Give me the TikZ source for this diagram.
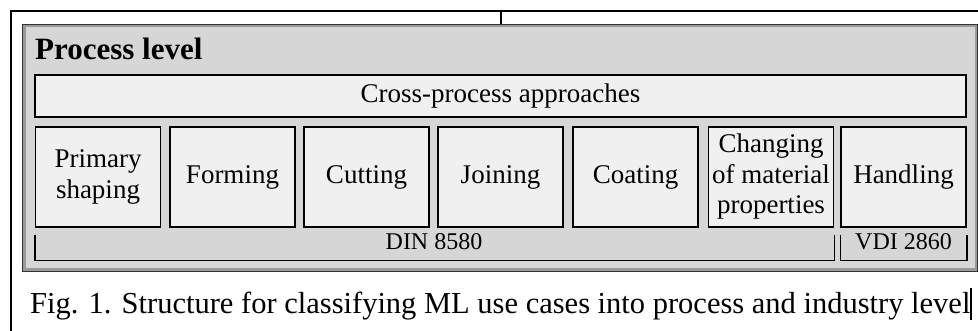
\documentclass[tikz,border=0pt]{standalone}
\usepackage{fontspec}
\setmainfont{Liberation Serif}
\definecolor{panelgray}{HTML}{D6D6D6}
\definecolor{boxfill}{HTML}{F0F0F0}
\definecolor{edgegray}{HTML}{9A9A9A}
\tikzset{
  frameline/.style={line width=1.5pt, black},
  panel/.style={fill=panelgray, draw=edgegray, line width=3pt, minimum width=952pt, minimum height=244pt, inner sep=0pt},
  panelinner/.style={draw=black!80, line width=1.2pt},
  crossbox/.style={draw=black, line width=1.5pt, fill=boxfill, minimum width=931pt, minimum height=42pt, inner sep=0pt, font=\fontsize{27}{30}\selectfont},
  procbox/.style={draw=black, line width=1.5pt, fill=boxfill, minimum width=125pt, minimum height=100pt, inner sep=0pt, align=center, font=\fontsize{27}{30.5}\selectfont},
  bracket/.style={line width=1.5pt, black},
  stdlabel/.style={anchor=base, inner sep=0pt, font=\fontsize{24}{26}\selectfont},
}
\begin{document}
\begin{tikzpicture}[x=1pt, y=-1pt]
\useasboundingbox (0,0) rectangle (978,331);
% outer frame
\coordinate (fl) at (11,331);
\coordinate (ftl) at (11,11);
\coordinate (fr) at (978,11);
\draw[frameline] (fl) -- (ftl) -- (fr);
% process panel
\node[panel] (proc) at (500,148) {};
\draw[panelinner] (proc.north west) rectangle (proc.south east);
\coordinate (tick) at (501,11);
\draw[frameline] (tick) -- (tick |- proc.north);
\node[anchor=base west, inner sep=0pt, font=\fontsize{31}{34}\selectfont\bfseries] (title) at (35,60) {Process level};
% cross-process
\node[crossbox] (cross) at (500.5,96) {\raisebox{-3pt}{Cross-process approaches}};
% process boxes
\node[procbox] (b1) at (98,177) {Primary\\shaping};
\node[procbox] (b2) at (232.5,177) {Forming};
\node[procbox] (b3) at (366.5,177) {Cutting};
\node[procbox] (b4) at (500.5,177) {Joining};
\node[procbox] (b5) at (635.5,177) {Coating};
\node[procbox] (b6) at (771,177) {Changing\\of material\\properties};
\node[procbox] (b7) at (903.5,177) {Handling};
% brackets
\draw[bracket] ([yshift=-7pt]b1.south west) -- ([yshift=-33pt]b1.south west) -- ([yshift=-33pt]b6.south east) -- ([yshift=-7pt]b6.south east);
\draw[bracket] ([yshift=-7pt]b7.south west) -- ([yshift=-33pt]b7.south west) -- ([yshift=-33pt]b7.south east) -- ([yshift=-7pt]b7.south east);
\node[stdlabel] (din) at (434,250) {DIN 8580};
\node[stdlabel] (vdi) at (903.5,250) {VDI 2860};
% caption
\node[anchor=base west, inner sep=0pt, font=\fontsize{30.5}{33}\selectfont] (cap) at (30,314) {Fig. 1. Structure for classifying ML use cases into process and industry level};
\coordinate (cur) at (971,288);
\draw[line width=1.5pt] (cur) -- ++(0,32);
\end{tikzpicture}
\end{document}
